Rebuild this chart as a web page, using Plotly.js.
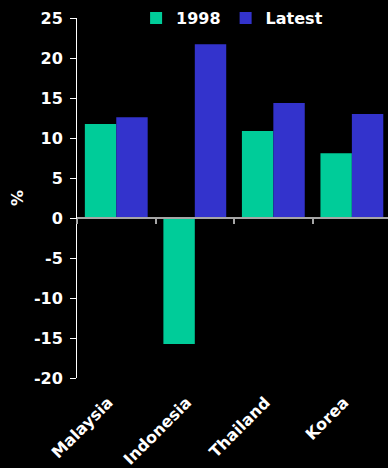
<!DOCTYPE html>
<html>
<head>
<meta charset="utf-8">
<script src="https://cdn.plot.ly/plotly-3.0.1.min.js"></script>
<style>
  html, body { margin: 0; padding: 0; background: #000; }
  #chart { width: 388px; height: 468px; }
</style>
</head>
<body>
<div id="chart"></div>
<script>
// Countries on the category axis
const countries = ['Malaysia', 'Indonesia', 'Thailand', 'Korea'];
// Values in percent for each period
const values1998 = [11.75, -15.75, 10.9, 8.1];
const valuesLatest = [12.6, 21.75, 14.4, 13.0];
// Y axis ticks and their labels (plain hyphen for negatives)
const yTicks = [-20, -15, -10, -5, 0, 5, 10, 15, 20, 25];
const yTickLabels = ['-20', '-15', '-10', '-5', '0', '5', '10', '15', '20', '25'];

const FONT = 'DejaVu Sans, Verdana, sans-serif';
const GREEN = '#00CC99';
const BLUE = '#3333CC';

const Y_RANGE = [-20, 25];
const Y_DOMAIN = [0, 0.952];
// fraction of the paper height where value 0 sits
const zeroPos = Y_DOMAIN[0] + (0 - Y_RANGE[0]) / (Y_RANGE[1] - Y_RANGE[0]) * (Y_DOMAIN[1] - Y_DOMAIN[0]);

const traces = [
  {
    type: 'bar', name: '1998', x: countries, y: values1998,
    marker: { color: GREEN, line: { width: 0 } }
  },
  {
    type: 'bar', name: 'Latest', x: countries, y: valuesLatest,
    marker: { color: BLUE, line: { width: 0 } }
  },
  // carrier for the zero-crossing axis with boundary ticks
  {
    type: 'scatter', x: countries, y: countries.map(() => 0), xaxis: 'x2',
    mode: 'none', showlegend: false, hoverinfo: 'skip'
  }
];

const layout = {
  width: 388, height: 468,
  paper_bgcolor: '#000', plot_bgcolor: '#000',
  margin: { l: 77, r: 0, t: 0, b: 90 },
  barmode: 'group',
  bargap: 0.2, bargroupgap: 0,
  font: { family: FONT, color: '#fff', size: 16, weight: 'bold' },
  showlegend: true,
  legend: {
    orientation: 'h', x: 0.19, xanchor: 'left', y: Y_DOMAIN[1], yanchor: 'middle',
    font: { family: FONT, color: '#fff', size: 16, weight: 'bold' },
    bgcolor: 'rgba(0,0,0,0)', traceorder: 'normal'
  },
  xaxis: {
    type: 'category', range: [-0.5, 3.46],
    showline: false, showgrid: false, zeroline: false, ticks: '',
    tickangle: -45,
    ticklabelstandoff: 11, ticklabelshift: -8,
    tickfont: { family: FONT, color: '#fff', size: 16, weight: 'bold' }
  },
  xaxis2: {
    type: 'category', overlaying: 'x', anchor: 'free', position: zeroPos,
    matches: 'x', range: [-0.5, 3.46],
    showline: true, linecolor: '#a6a6a6', linewidth: 2,
    ticks: 'outside', tickson: 'boundaries', ticklen: 5, tickwidth: 2, tickcolor: '#a6a6a6',
    showticklabels: false, showgrid: false, zeroline: false
  },
  yaxis: {
    domain: Y_DOMAIN,
    range: Y_RANGE, tickvals: yTicks, ticktext: yTickLabels,
    showline: true, linecolor: '#fff', linewidth: 1,
    ticks: 'outside', ticklen: 6, tickcolor: '#fff', tickwidth: 1,
    ticklabelstandoff: 4,
    showgrid: false, zeroline: false,
    tickfont: { family: FONT, color: '#fff', size: 16, weight: 'bold' },
    title: { text: '%', standoff: 6, font: { family: FONT, color: '#fff', size: 16, weight: 'bold' } }
  }
};

Plotly.newPlot('chart', traces, layout, { staticPlot: true, displayModeBar: false });
</script>
</body>
</html>
